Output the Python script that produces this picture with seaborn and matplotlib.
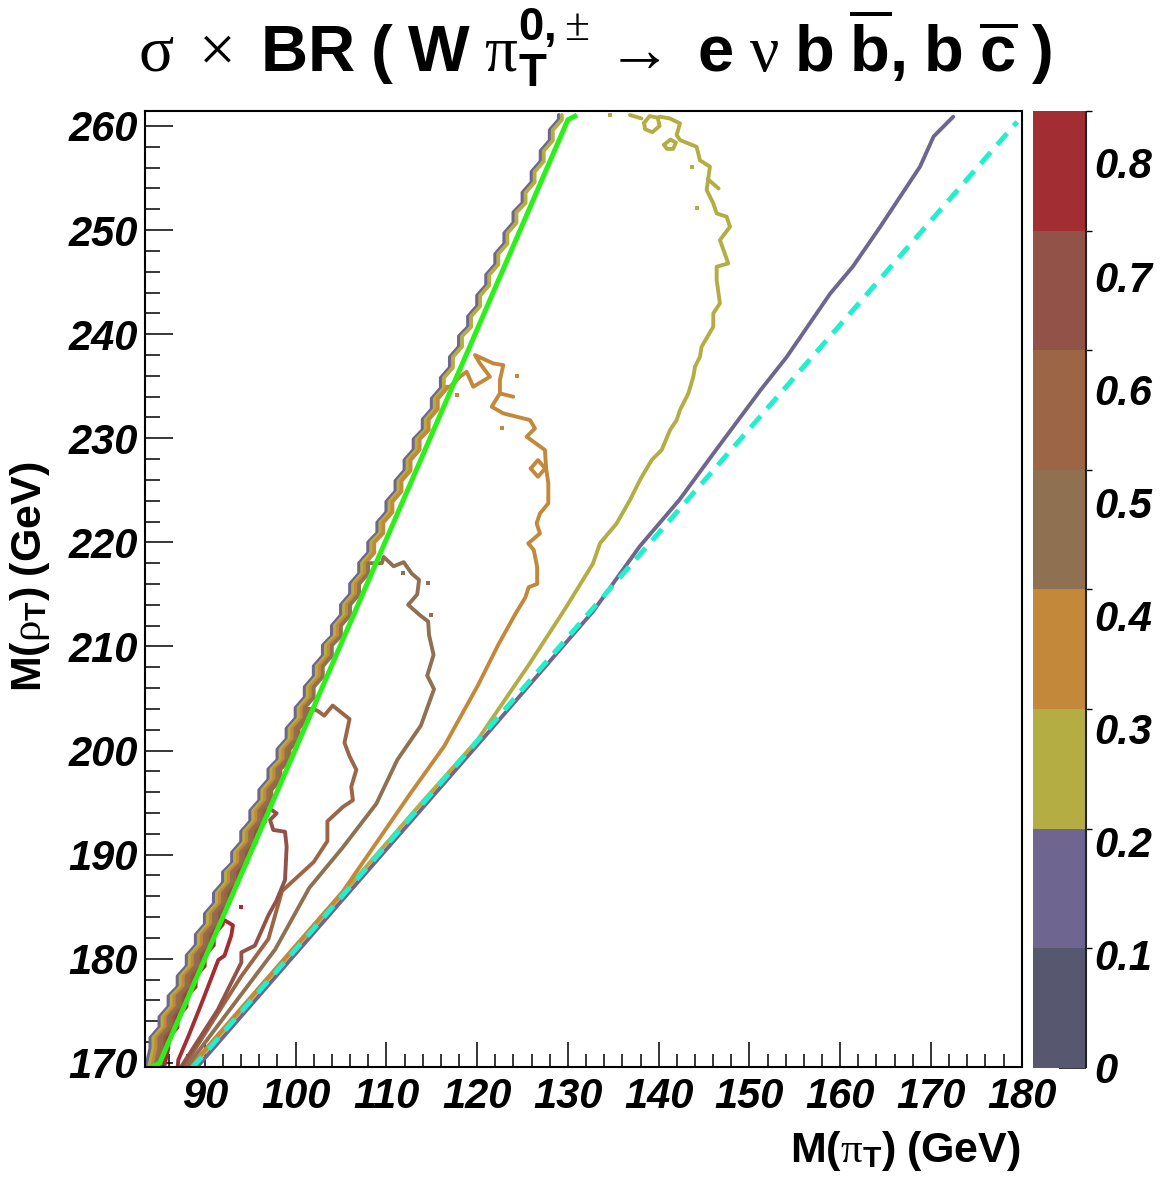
import numpy as np
import matplotlib.pyplot as plt
import seaborn as sns
from matplotlib.colors import ListedColormap, BoundaryNorm
from matplotlib.cm import ScalarMappable
from matplotlib.ticker import MultipleLocator

# contour levels and palette (8 bands between 0 and the maximum)
levels = [0.0, 0.1057, 0.2114, 0.3171, 0.4229, 0.5286, 0.6343, 0.7400, 0.8457]
band_colors = ['#575770', '#6e6690', '#b3ad44', '#c3883a', '#8f7050',
               '#9c6545', '#935247', '#a22d32']
cbar_ticks = [0, 0.1, 0.2, 0.3, 0.4, 0.5, 0.6, 0.7, 0.8]
cbar_labels = ['0', '0.1', '0.2', '0.3', '0.4', '0.5', '0.6', '0.7', '0.8']

x_ticks = [90, 100, 110, 120, 130, 140, 150, 160, 170, 180]
y_ticks = [170, 180, 190, 200, 210, 220, 230, 240, 250, 260]

# left edge of the allowed region: staircase corners (M(pi_T), M(rho_T))
stair_x = [84, 85, 86, 87, 88, 89, 90, 91, 92, 93, 94, 95, 96, 97, 98, 99,
           100, 101, 102, 103, 104, 105, 106, 107, 108, 109, 110, 111, 112,
           113, 114, 115, 116, 117, 118, 119, 120, 121, 122, 123, 124, 125,
           126, 127, 128, 129]
stair_y = [171.4, 173.4, 175.4, 177.3, 179.3, 181.3, 183.3, 185.3, 187.3,
           189.2, 191.2, 193.2, 195.2, 197.2, 199.1, 201.1, 203.1, 205.1,
           207.1, 209.1, 211.0, 213.0, 215.0, 217.0, 219.0, 220.9, 222.9,
           224.9, 226.9, 228.9, 230.8, 232.8, 234.8, 236.8, 238.8, 240.7,
           242.7, 244.7, 246.7, 248.7, 250.7, 252.6, 254.6, 256.6, 258.6,
           260.6]

# right-hand branches of each contour (from where they leave the staircase)
purple_right = [(172.46, 260.89), (170.3, 259.0), (168.8, 256.1), (164.4, 250.3),
                (161.4, 246.5), (158.9, 243.9), (154.1, 237.8), (151.2, 234.6),
                (146.0, 228.5), (142.3, 224.1), (137.9, 219.6), (132.8, 213.4),
                (120.0, 200.5), (105.0, 185.5), (89.05, 169.5)]

olive_right = [(140.1, 260.9), (141.2, 260.73), (142.35, 260.25), (141.98, 259.13),
               (142.35, 258.65), (144.18, 258.0), (144.55, 256.7), (145.65, 256.09),
               (145.29, 253.85), (146.02, 252.56), (146.39, 251.6), (147.49, 251.28),
               (147.86, 250.32), (146.75, 249.04), (147.67, 246.8), (146.39, 246.48),
               (146.39, 245.2), (146.75, 242.96), (146.02, 242.0), (146.02, 240.72),
               (144.73, 238.79), (144.55, 237.83), (144.0, 236.87), (143.82, 235.91),
               (143.27, 234.31), (142.35, 232.71), (141.98, 231.75), (141.25, 230.79),
               (140.33, 228.87), (139.23, 227.91), (137.94, 225.99), (136.84, 224.07),
               (135.37, 221.82), (133.53, 219.9), (132.76, 217.96), (129.78, 213.74),
               (125.68, 208.22), (120.09, 201.07), (113.9, 195.0), (100.0, 181.05),
               (88.45, 169.5)]
olive_bits = [
    [(136.84, 261.05), (138.1, 260.73)],
    [(138.4, 260.3), (139.0, 260.95), (139.9, 260.8), (140.1, 260.0),
     (139.3, 259.4), (138.5, 259.7), (138.4, 260.3)],
    [(140.6, 258.2), (141.3, 258.7), (141.9, 258.4), (141.6, 257.8),
     (140.9, 257.8), (140.6, 258.2)],
    [(145.4, 254.9), (146.6, 254.0)],
]

orange_path = [(117.0, 234.95), (118.1, 235.91), (118.84, 236.39), (119.57, 234.95),
               (121.41, 235.91), (120.31, 237.19), (119.76, 237.99), (121.78, 237.19),
               (122.88, 237.03), (122.51, 235.59), (122.51, 234.31), (121.6, 233.03),
               (122.88, 232.39), (125.82, 231.75), (126.37, 230.95), (125.45, 230.15),
               (127.47, 228.87), (127.6, 227.1), (127.84, 225.67), (127.84, 223.75),
               (126.92, 222.78), (126.55, 221.82), (126.92, 220.86), (125.63, 219.9),
               (126.24, 219.26), (126.61, 217.64), (126.61, 216.01), (125.68, 215.69),
               (125.31, 214.71), (124.19, 213.09), (122.33, 210.17), (120.09, 206.27),
               (116.37, 200.42), (112.65, 195.88), (105.2, 186.46), (97.75, 179.0),
               (88.25, 169.5)]
orange_bits = [
    [(125.9, 227.1), (126.7, 227.9), (127.5, 227.1), (126.7, 226.3), (125.9, 227.1)],
    [(122.51, 234.31), (123.98, 233.99)],
]

brown_path = [(109.5, 218.0), (109.7, 218.6), (110.8, 217.7), (111.9, 218.1),
              (112.8, 217.0), (113.6, 216.4), (113.4, 215.0), (112.4, 214.0),
              (113.7, 213.0), (114.6, 212.4), (114.7, 211.1), (115.2, 209.2),
              (114.5, 207.2), (115.25, 205.9), (113.8, 202.4), (111.2, 199.1),
              (108.9, 194.9), (105.2, 190.7), (101.5, 186.8), (97.75, 180.9),
              (87.9, 169.5)]

brown2_path = [(101.84, 204.0), (102.4, 203.83), (103.15, 203.35), (104.08, 204.32),
               (105.94, 203.02), (105.38, 200.75), (105.94, 199.45), (106.69, 198.15),
               (106.13, 196.52), (106.31, 195.23), (105.2, 194.58), (103.5, 193.2),
               (103.5, 191.3), (102.0, 189.3), (98.5, 186.5), (97.0, 181.9),
               (94.0, 178.3), (87.6, 169.5)]

redbrown_path = [(96.9, 194.3), (97.36, 194.29), (97.91, 193.97), (97.18, 193.33),
                 (97.54, 192.37), (98.83, 192.2), (99.01, 190.77), (98.83, 187.56),
                 (97.9, 185.6), (97.0, 184.18), (95.51, 181.26), (94.02, 180.61),
                 (94.02, 179.64), (91.42, 175.09), (87.3, 169.5)]

red_path = [(91.79, 183.86), (92.16, 183.7), (93.09, 183.21), (92.91, 182.24),
            (92.16, 180.29), (91.48, 179.88), (89.64, 175.72), (88.17, 172.52),
            (87.07, 170.27), (87.0, 169.5)]

# isolated single-cell islands
specks = {
    2: [(134.6, 261.05), (144.18, 252.08), (143.63, 256.09)],
    3: [(124.35, 235.98), (117.74, 234.15), (122.7, 231.0)],
    4: [(111.87, 217.02), (114.62, 216.06), (114.9, 213.0)],
    7: [(94.02, 184.99)],
}

# reference lines
green_x = [84.1, 85.0, 130.0, 131.0]
green_y = [169.6, 169.95, 260.6, 261.05]
cyan_x = [88.6, 179.5]
cyan_y = [169.5, 260.4]

sns.set_theme(style='ticks')
plt.rcParams['font.family'] = ['Liberation Sans', 'DejaVu Sans']
plt.rcParams['mathtext.fontset'] = 'custom'
plt.rcParams['mathtext.rm'] = 'Liberation Serif'
plt.rcParams['mathtext.it'] = 'Liberation Serif:italic'
plt.rcParams['mathtext.bf'] = 'Liberation Sans:bold'
plt.rcParams['mathtext.sf'] = 'Liberation Sans'
for key in ['text.color', 'axes.labelcolor', 'xtick.color', 'ytick.color',
            'axes.edgecolor']:
    plt.rcParams[key] = 'black'

fig = plt.figure(figsize=(11.71, 11.80), dpi=100)
ax = fig.add_axes([0.1238, 0.0956, 0.7487, 0.8106])
cax = fig.add_axes([0.8822, 0.0953, 0.0448, 0.8104])

STEP_RISE = 1.0
STEP_SHIFT = 0.33
TOP = 261.05


def staircase(k, y_stop):
    dx = STEP_SHIFT * (k - 1)
    xs, ys = [83.5 + dx], [169.5]
    for sx, sy in zip(stair_x, stair_y):
        if sy >= y_stop:
            break
        xs += [sx + dx, sx + dx]
        ys += [sy, min(sy + STEP_RISE, y_stop)]
    return xs, ys


def draw(xs, ys, k, lw=2.8):
    sns.lineplot(x=xs, y=ys, sort=False, estimator=None, ax=ax,
                 color=band_colors[k], linewidth=lw)


# contour lines: purple (1) and olive (2) leave through the top edge
for k, right in [(1, purple_right), (2, olive_right)]:
    sx, sy = staircase(k, TOP)
    draw(sx, sy, k)
    draw([p[0] for p in right], [p[1] for p in right], k)

for k, path in [(3, orange_path), (4, brown_path), (5, brown2_path),
                (6, redbrown_path), (7, red_path)]:
    sx, sy = staircase(k, path[0][1])
    draw(sx + [p[0] for p in path], sy + [p[1] for p in path], k)

for bits, k in [(olive_bits, 2), (orange_bits, 3)]:
    for b in bits:
        draw([p[0] for p in b], [p[1] for p in b], k)

for k, pts in specks.items():
    ax.plot([p[0] for p in pts], [p[1] for p in pts], 's', ms=3.5,
            color=band_colors[k], mew=0)

ax.plot(green_x, green_y, color='#2cf01a', lw=3.6, solid_capstyle='butt')
ax.plot(cyan_x, cyan_y, color='#22efcd', lw=3.6, linestyle=(0, (3.0, 2.0)),
        dash_capstyle='butt')

ax.set_xlim(83.4, 180.0)
ax.set_ylim(169.58, 261.47)
ax.set_xticks(x_ticks)
ax.set_yticks(y_ticks)
ax.xaxis.set_minor_locator(MultipleLocator(2))
ax.yaxis.set_minor_locator(MultipleLocator(2))
ax.set_xticklabels([str(v) for v in x_ticks], fontsize=30, fontweight='bold',
                   fontstyle='italic')
ax.set_yticklabels([str(v) for v in y_ticks], fontsize=30, fontweight='bold',
                   fontstyle='italic')
ax.tick_params(axis='x', which='major', direction='in', length=18, width=1.1,
               pad=7, top=False)
ax.tick_params(axis='x', which='minor', direction='in', length=9.5, width=1.1,
               top=False)
ax.tick_params(axis='y', which='major', direction='in', length=20, width=1.1,
               pad=5, right=False)
ax.tick_params(axis='y', which='minor', direction='in', length=11, width=1.1,
               right=False)
for s in ax.spines.values():
    s.set_linewidth(1.5)
    s.set_color('black')
ax.set_xlabel('')
ax.set_ylabel('')

# palette
sm = ScalarMappable(norm=BoundaryNorm(levels, len(band_colors)),
                    cmap=ListedColormap(band_colors))
cb = fig.colorbar(sm, cax=cax, ticks=cbar_ticks, spacing='proportional')
cb.outline.set_visible(False)
cax.tick_params(direction='in', length=19.5, width=1.1, right=True, left=False,
                pad=6)
cax.set_yticklabels(cbar_labels, fontsize=30, fontweight='bold', fontstyle='italic')
cax.plot([1, 1], [0, 1], transform=cax.transAxes, color='#222222', lw=1.5,
         clip_on=False, solid_capstyle='butt')

title = (r'$\mathrm{\sigma}\ \times\ \mathbf{BR}\ \mathbf{(}\ \mathbf{W}\ '
         r'\mathrm{\pi}_{\mathbf{T}}^{\mathbf{0,}\!\pm}\rightarrow\ \mathbf{e}\ '
         r'\mathrm{\nu}\ \mathbf{b}\ \overline{\mathbf{b}}\mathbf{,}\ '
         r'\mathbf{b}\ \overline{\mathbf{c}}\ \mathbf{)}$')
fig.text(0.508, 0.939, title, fontsize=47, ha='center', va='baseline')
fig.text(1021 / 1171, 0.0153, r'$\mathbf{M(}\mathrm{\pi}_{\mathbf{T}}\mathbf{)\ (GeV)}$',
         fontsize=31, ha='right', va='baseline')
fig.text(30 / 1171, 0.511, r'$\mathbf{M(}\mathrm{\rho}_{\mathbf{T}}\mathbf{)\ (GeV)}$',
         fontsize=31, ha='center', va='center', rotation=90)

fig.savefig('out.png', dpi=100)
